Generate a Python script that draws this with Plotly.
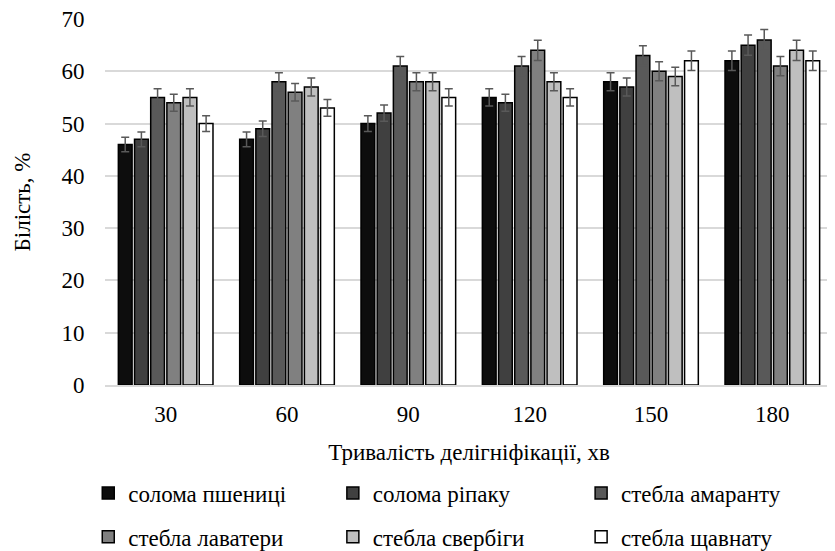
import plotly.graph_objects as go

categories = ["30", "60", "90", "120", "150", "180"]
series_names = ["солома пшениці", "солома ріпаку", "стебла амаранту",
                "стебла лаватери", "стебла свербіги", "стебла щавнату"]
wheat = [46, 47, 50, 55, 58, 62]
rapeseed = [47, 49, 52, 54, 57, 65]
amaranth = [55, 58, 61, 61, 63, 66]
lavatera = [54, 56, 58, 64, 60, 61]
sverbiga = [55, 57, 58, 58, 59, 64]
sorrel = [50, 53, 55, 55, 62, 62]
error_percent = 3
colors = ["#0d0d0d", "#404040", "#595959", "#808080", "#bfbfbf", "#ffffff"]

values = [wheat, rapeseed, amaranth, lavatera, sverbiga, sorrel]
FONT = "Liberation Serif"
FS = 23

legend_names = ["legend", "legend2", "legend3", "legend4", "legend5", "legend6"]
legend_x = [-0.023, 0.313, 0.654, -0.023, 0.313, 0.654]
legend_y = [-0.295, -0.295, -0.295, -0.415, -0.415, -0.415]

fig = go.Figure()
for i, (name, vals, col) in enumerate(zip(series_names, values, colors)):
    fig.add_trace(go.Bar(
        x=categories, y=vals, name=name,
        marker=dict(color=col, line=dict(color="#000000", width=1.5)),
        error_y=dict(type="percent", value=error_percent, color="#595959",
                     thickness=1.5, width=4),
        legend=legend_names[i],
    ))

legend_layout = {}
for ln, lx, ly in zip(legend_names, legend_x, legend_y):
    legend_layout[ln] = dict(
        orientation="h", x=lx, y=ly, xanchor="left", yanchor="middle",
        font=dict(family=FONT, size=FS, color="#000000"),
        bgcolor="rgba(0,0,0,0)", itemclick=False, itemdoubleclick=False,
    )

fig.update_layout(
    width=827, height=543,
    margin=dict(l=97, r=2, t=11, b=166, autoexpand=False),
    paper_bgcolor="white", plot_bgcolor="white",
    barmode="group", bargap=0.2, bargroupgap=0.15,
    font=dict(family=FONT, size=FS, color="#000000"),
    showlegend=True,
    xaxis=dict(
        title=dict(text="Тривалість делігніфікації, хв", standoff=18,
                   font=dict(family=FONT, size=FS)),
        tickfont=dict(family=FONT, size=FS),
        showline=True, linecolor="#d9d9d9", linewidth=1.5,
        ticks="outside", ticklen=8, tickcolor="rgba(0,0,0,0)",
        automargin=False,
    ),
    yaxis=dict(
        title=dict(text="Білість, %", standoff=24, font=dict(family=FONT, size=FS)),
        range=[0, 70], dtick=10,
        tickfont=dict(family=FONT, size=FS),
        ticklabeloverflow="allow",
        showgrid=True, gridcolor="#d9d9d9", gridwidth=1.5,
        zeroline=False, showline=False,
        ticks="outside", ticklen=15, tickcolor="rgba(0,0,0,0)",
        automargin=False,
    ),
    **legend_layout,
)

fig.write_html("out.html")
